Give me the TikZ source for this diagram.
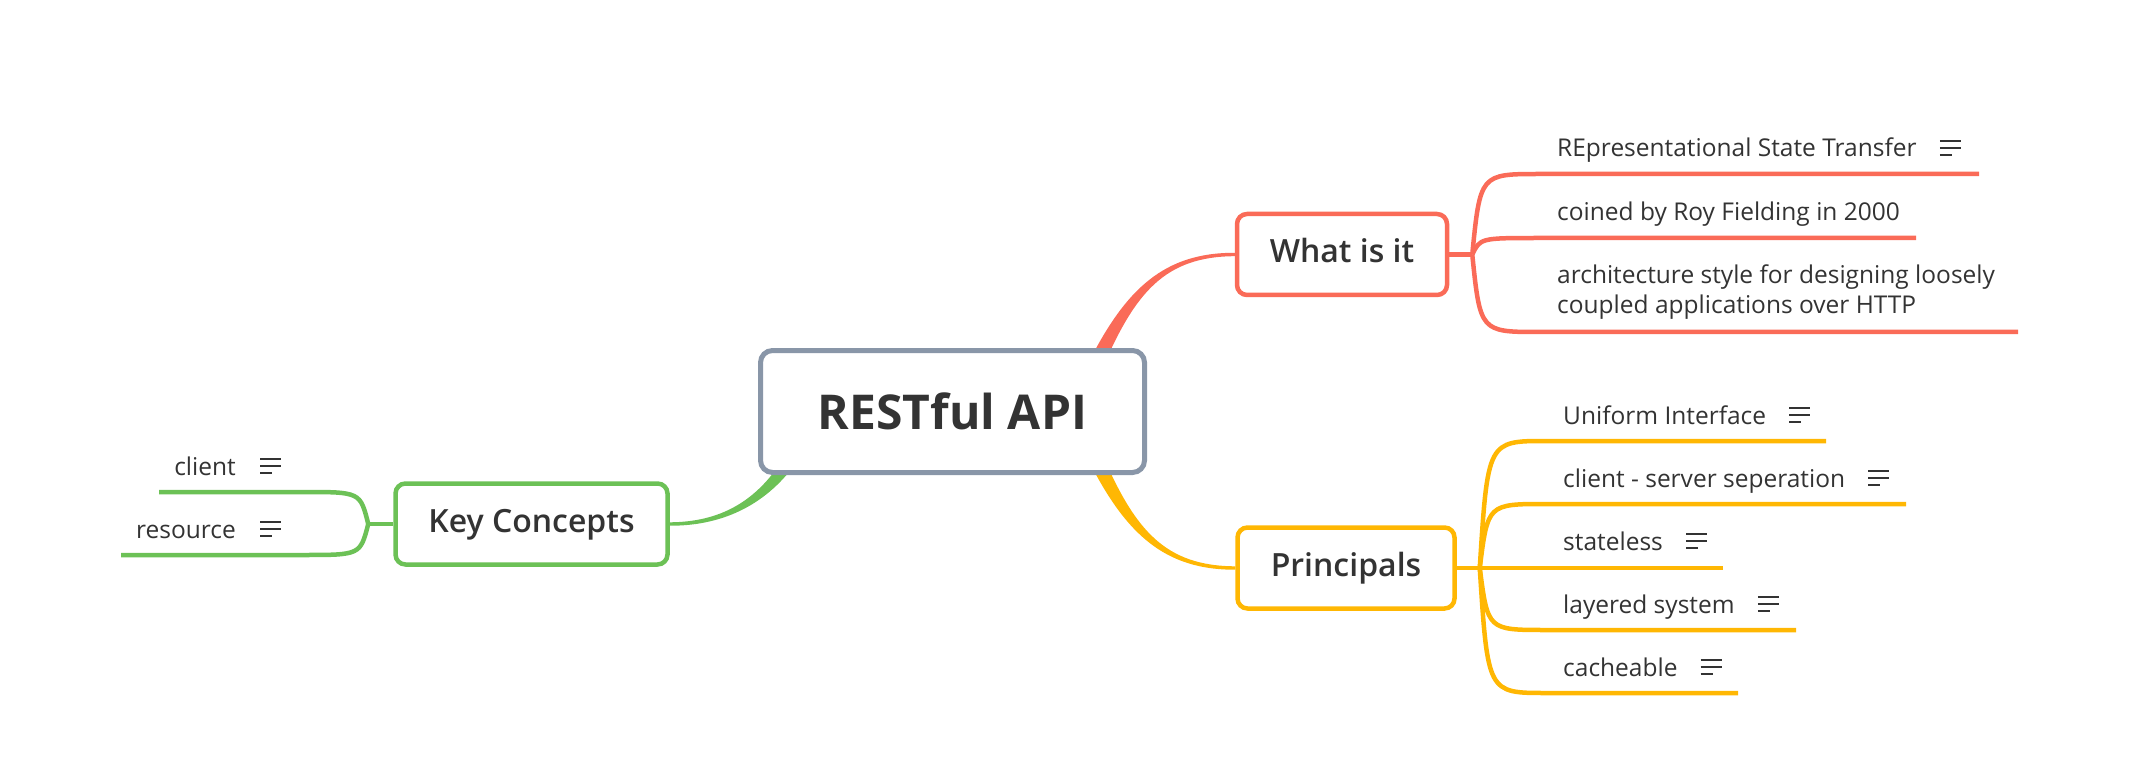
\documentclass[tikz,border=0pt]{standalone}
\usepackage{fontspec}
\setmainfont{Open Sans}
\newfontfamily\semibold{Open Sans Semibold}
\usepackage{tikz}
\usetikzlibrary{calc,positioning,backgrounds}

\definecolor{rootgray}{RGB}{137,150,168}
\definecolor{redbr}{RGB}{250,107,88}
\definecolor{yellowbr}{RGB}{255,183,3}
\definecolor{greenbr}{RGB}{108,193,86}
\definecolor{inkgray}{RGB}{51,51,51}

\tikzset{notes/.pic={
    \draw[line width=1.8pt, inkgray] (0,0) -- (21,0) (0,7) -- (21,7) (0,14) -- (12,14);
  }}

% colour, start, control 1, control 2, end, half width at start, half width at control 1
\newcommand{\taper}[7]{%
  \fill[#1] ($#2!#6!90:#3$) .. controls ($#3!#7!-90:#2$) and ($#4!2pt!90:#5$) .. ($#5!1.7pt!-90:#4$)
    -- ($#5!1.7pt!90:#4$) .. controls ($#4!2pt!-90:#5$) and ($#3!#7!90:#2$) .. ($#2!#6!-90:#3$) -- cycle;}

\begin{document}
\begin{tikzpicture}[x=1pt, y=-1pt]
      \tikzstyle{rootnode} = [draw=rootgray, line width=5pt, fill=white, rounded corners=12pt, text=inkgray,
                              font=\bfseries\fontsize{48}{58}\selectfont, minimum height=122pt]
      \tikzstyle{topic} = [line width=4.5pt, fill=white, rounded corners=10pt, text=inkgray,
                           font=\semibold\fontsize{32}{38}\selectfont, minimum height=81pt,
                           text height=24pt, text depth=8pt]
      \tikzstyle{leaf} = [inner sep=0pt, text=inkgray, font=\fontsize{24.5}{30}\selectfont]
      \tikzstyle{twig} = [line width=4.5pt]

      \useasboundingbox (0,0) rectangle (2142,767);

      %%%%%%%%%%%%%%%%%%%%%%%%%%%%%%
      %% Central topic and main topics
      %%%%%%%%%%%%%%%%%%%%%%%%%%%%%%
      \node[rootnode, minimum width=384pt] (root) at (952.5,411.5) {RESTful API};
      \node[topic, draw=redbr, minimum width=210pt] (what) at (1342,254.5) {What is it};
      \node[topic, draw=yellowbr, minimum width=217pt] (prin) at (1346,568) {Principals};
      \node[topic, draw=greenbr, minimum width=272pt] (keyc) at (531.5,524) {Key Concepts};

      %%%%%%%%%%%%%%%%%%%%%%%%%%%%%%
      %% What is it
      %%%%%%%%%%%%%%%%%%%%%%%%%%%%%%
      \node[leaf, anchor=base west] (rest) at (1557,157) {REpresentational State Transfer};
      \node[leaf, anchor=base west] (coined) at (1557,221) {coined by Roy Fielding in 2000};
      \node[leaf, anchor=base west, align=left] (archi) at (1557,314)
        {architecture style for designing loosely\\coupled applications over HTTP};
      \pic at ($(rest.base east)+(23,-16)$) {notes};

      \coordinate (rj) at ($(what.east)+(23,0)$);
      \coordinate (u1) at (1540,174);  \coordinate (u1e) at (1979,174);
      \coordinate (u2) at (1540,238);  \coordinate (u2e) at (1916,238);
      \coordinate (u3) at (1540,332);  \coordinate (u3e) at (2018,332);

      \draw[twig, redbr] (what.east) -- (rj);
      \draw[twig, redbr] (rj) .. controls ($(rj |- u1)+(8,0)$) .. (u1) -- (u1e);
      \draw[twig, redbr] (rj) .. controls ($(rj |- u2)+(8,0)$) .. (u2) -- (u2e);
      \draw[twig, redbr] (rj) .. controls ($(rj |- u3)+(8,0)$) .. (u3) -- (u3e);

      %%%%%%%%%%%%%%%%%%%%%%%%%%%%%%
      %% Principals
      %%%%%%%%%%%%%%%%%%%%%%%%%%%%%%
      \node[leaf, anchor=base west] (unif) at (1563,424) {Uniform Interface};
      \node[leaf, anchor=base west] (clsrv) at (1563,487) {client - server seperation};
      \node[leaf, anchor=base west] (stless) at (1563,550) {stateless};
      \node[leaf, anchor=base west] (layer) at (1563,613) {layered system};
      \node[leaf, anchor=base west] (cache) at (1563,676) {cacheable};
      \pic at ($(unif.base east)+(23,-16)$) {notes};
      \pic at ($(clsrv.base east)+(23,-16)$) {notes};
      \pic at ($(stless.base east)+(23,-16)$) {notes};
      \pic at ($(layer.base east)+(23,-16)$) {notes};
      \pic at ($(cache.base east)+(23,-16)$) {notes};

      \coordinate (pj) at ($(prin.east)+(23,0)$);
      \coordinate (v1) at (1546,441);  \coordinate (v1e) at (1826,441);
      \coordinate (v2) at (1546,504);  \coordinate (v2e) at (1906,504);
      \coordinate (v3) at (1546,568);  \coordinate (v3e) at (1723,568);
      \coordinate (v4) at (1546,630);  \coordinate (v4e) at (1796,630);
      \coordinate (v5) at (1546,693);  \coordinate (v5e) at (1738,693);

      \draw[twig, yellowbr] (prin.east) -- (pj);
      \draw[twig, yellowbr] (pj) .. controls ($(pj |- v1)+(8,0)$) .. (v1) -- (v1e);
      \draw[twig, yellowbr] (pj) .. controls ($(pj |- v2)+(8,0)$) .. (v2) -- (v2e);
      \draw[twig, yellowbr] (pj) -- (v3) -- (v3e);
      \draw[twig, yellowbr] (pj) .. controls ($(pj |- v4)+(8,0)$) .. (v4) -- (v4e);
      \draw[twig, yellowbr] (pj) .. controls ($(pj |- v5)+(8,0)$) .. (v5) -- (v5e);

      %%%%%%%%%%%%%%%%%%%%%%%%%%%%%%
      %% Key Concepts
      %%%%%%%%%%%%%%%%%%%%%%%%%%%%%%
      \node[leaf, anchor=base east] (client) at (236,475) {client};
      \node[leaf, anchor=base east] (resrc) at (236,538) {resource};
      \pic at ($(client.base east)+(24,-16)$) {notes};
      \pic at ($(resrc.base east)+(24,-16)$) {notes};

      \coordinate (kj) at ($(keyc.west)+(-25,0)$);
      \coordinate (w1) at (303,492);  \coordinate (w1e) at (159,492);
      \coordinate (w2) at (303,555);  \coordinate (w2e) at (121,555);

      \draw[twig, greenbr] (keyc.west) -- (kj);
      \draw[twig, greenbr] (kj) .. controls ($(kj |- w1)+(-8,0)$) .. (w1) -- (w1e);
      \draw[twig, greenbr] (kj) .. controls ($(kj |- w2)+(-8,0)$) .. (w2) -- (w2e);

      %%%%%%%%%%%%%%%%%%%%%%%%%%%%%%
      %% Tapered main branches
      %%%%%%%%%%%%%%%%%%%%%%%%%%%%%%
      \begin{scope}[on background layer]
        \coordinate (rs) at ($(root.center)+(143,-46)$);
        \coordinate (rc1) at ($(rs)+(35,-75)$);
        \coordinate (rc2) at ($(what.west)+(-70,0)$);
        \taper{redbr}{(rs)}{(rc1)}{(rc2)}{(what.west)}{7.5pt}{5pt}

        \coordinate (ys) at ($(root.center)+(143,46)$);
        \coordinate (yc1) at ($(ys)+(35,75)$);
        \coordinate (yc2) at ($(prin.west)+(-70,0)$);
        \taper{yellowbr}{(ys)}{(yc1)}{(yc2)}{(prin.west)}{7.5pt}{5pt}

        \coordinate (gs) at ($(root.center)+(-162,48)$);
        \coordinate (gc1) at ($(gs)+(-30,45)$);
        \coordinate (gc2) at ($(keyc.east)+(50,0)$);
        \taper{greenbr}{(gs)}{(gc1)}{(gc2)}{(keyc.east)}{6.5pt}{4.5pt}
      \end{scope}

\end{tikzpicture}
\end{document}
